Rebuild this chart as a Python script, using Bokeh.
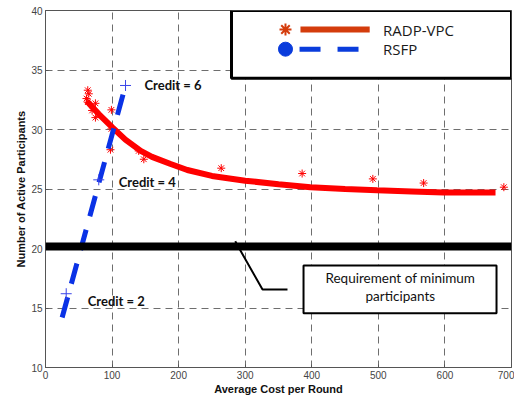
from bokeh.plotting import figure
from bokeh.models import Span, FixedTicker, Range1d
from bokeh.embed import file_html
from bokeh.resources import INLINE
from bokeh.core.properties import value

# ---------------- data ----------------
# RADP-VPC measured points (asterisks)
radp_x = [63.5, 65, 61.6, 63.5, 75, 70, 75, 99, 99, 97.6, 140, 147.7, 264, 385.5, 491.7, 568, 688.5]
radp_y = [33.3, 33.0, 32.6, 32.3, 32.2, 31.6, 31.0, 31.65, 30.05, 28.3, 28.2, 27.5, 26.75, 26.3, 25.85, 25.5, 25.15]
# RADP-VPC fitted curve
fit_x = [62, 80, 100, 120, 143, 160, 188, 213, 250, 300, 350, 398, 450, 498, 550, 598, 640, 676]
fit_y = [32.4, 31.3, 30.2, 29.15, 28.2, 27.7, 27.1, 26.6, 26.1, 25.7, 25.4, 25.15, 25.0, 24.9, 24.8, 24.7, 24.7, 24.7]
# RSFP points (credit = 2, 4, 6) and its fitted line
rsfp_x = [31.1, 80, 120.2]
rsfp_y = [16.2, 25.77, 33.7]
rsfp_fit_x = [25, 120.2]
rsfp_fit_y = [14.2, 33.7]
credit_labels = ["Credit = 2", "Credit = 4", "Credit = 6"]
credit_label_x = [63.4, 110, 148.7]
credit_label_y = [15.55, 25.55, 33.7]
min_participants = 20.17
x_ticks = [0, 100, 200, 300, 400, 500, 600, 700]
y_ticks = [10, 15, 20, 25, 30, 35, 40]

RED = "#ff0000"
BLUE = "#0a32e6"
LEG_RED = "#d43c0c"
LEG_BLUE = "#0a3cdc"
GRID = "#6e6e6e"
AXIS = "#555555"

p = figure(frame_width=466, frame_height=357, output_backend="svg", toolbar_location=None,
           x_range=Range1d(0, 700), y_range=Range1d(10, 40),
           min_border_left=45, min_border_right=3, min_border_top=10, min_border_bottom=28)
p.background_fill_color = "white"
p.border_fill_color = "white"
p.outline_line_color = AXIS
p.outline_line_width = 1

for ax, ticks in ((p.xaxis[0], x_ticks), (p.yaxis[0], y_ticks)):
    ax.ticker = FixedTicker(ticks=ticks)
    ax.axis_line_color = AXIS
    ax.major_tick_line_color = AXIS
    ax.major_tick_in = 3
    ax.major_tick_out = 0
    ax.minor_tick_line_color = None
    ax.major_label_text_font = "Liberation Sans"
    ax.major_label_text_font_size = "10px"
    ax.major_label_text_color = "#444444"
    ax.axis_label_text_font = "Liberation Sans"
    ax.axis_label_text_font_style = "bold"
    ax.axis_label_text_font_size = "11px"
    ax.axis_label_text_color = "#111111"

p.xaxis.axis_label = "Average Cost per Round"
p.yaxis.axis_label = "Number of Active Participants"
p.xaxis.major_label_standoff = 3
p.xaxis.axis_label_standoff = 1
p.yaxis.major_label_standoff = 3
p.yaxis.axis_label_standoff = 1

for g in (p.xgrid[0], p.ygrid[0]):
    g.grid_line_color = GRID
    g.grid_line_dash = "7 5"
    g.grid_line_width = 1

# minimum participants threshold
p.add_layout(Span(location=min_participants, dimension="width", line_color="black", line_width=8))

# RADP-VPC
p.line(fit_x, fit_y, line_color=RED, line_width=6)
p.scatter(radp_x, radp_y, marker="asterisk", size=8, line_color=RED, line_width=1)

# RSFP
p.line(rsfp_fit_x, rsfp_fit_y, line_color=BLUE, line_width=5, line_dash="21 14")
p.scatter(rsfp_x, rsfp_y, marker="cross", size=11, line_color="#3a44e8", line_width=1)

# credit labels
p.text(credit_label_x, credit_label_y, text=credit_labels, text_font=value("Lato"),
       text_font_style="bold", text_font_size="13px", text_baseline="middle",
       text_align="left", text_color="#111111")

# callout for minimum requirement
p.line([285, 326, 363.5], [20.6, 16.55, 16.55], line_color="black", line_width=2)
p.quad(left=[387.6], right=[677.5], bottom=[14.55], top=[18.57],
       fill_color="white", line_color="black", line_width=2)
p.text([533, 533], [17.48, 16.05], text=["Requirement of minimum", "participants"],
       text_font=value("Lato"), text_font_size="13.5px", text_align="center",
       text_baseline="middle", text_color="#111111")

# legend (drawn)
p.quad(left=[279.4], right=[700], bottom=[34.3], top=[40],
       fill_color="white", line_color="black", line_width=3)
p.scatter([360.5], [38.4], marker="asterisk", size=12, line_color=LEG_RED, line_width=2)
p.line([383, 487], [38.4, 38.4], line_color=LEG_RED, line_width=6)
p.scatter([360.5], [36.75], marker="circle", size=14, fill_color=LEG_BLUE, line_color=LEG_BLUE)
p.line([381.6, 470.2], [36.75, 36.75], line_color=LEG_BLUE, line_width=5, line_dash="21 17")
p.text([507, 507], [38.4, 36.75], text=["RADP-VPC", "RSFP"], text_font=value("Open Sans"),
       text_font_size="15px", text_baseline="middle", text_align="left", text_color="#1a1a1a")

open("out.html", "w").write(file_html(p, INLINE))
